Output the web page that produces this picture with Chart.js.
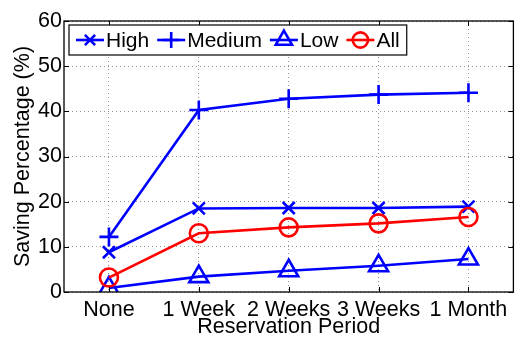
<!DOCTYPE html>
<html>
<head>
<meta charset="utf-8">
<script src="https://cdn.jsdelivr.net/npm/chart.js@4.4.1/dist/chart.umd.min.js"></script>
<style>
  html, body { margin: 0; padding: 0; background: #fff; }
  canvas { display: block; }
</style>
</head>
<body>
<canvas id="saving" width="527" height="337"></canvas>
<script>
const periods = ["None", "1 Week", "2 Weeks", "3 Weeks", "1 Month"];
const high = [8.8, 18.5, 18.6, 18.6, 18.9];
const medium = [12.2, 40.3, 42.8, 43.7, 44.1];
const low = [0.9, 3.4, 4.7, 5.8, 7.3];
const all = [3.2, 13.0, 14.3, 15.2, 16.6];
const yTicks = [0, 10, 20, 30, 40, 50, 60];

const FONT = "'Liberation Sans', Arial, Helvetica, sans-serif";
const BLUE = "#0000ff";
const RED = "#ff0000";

function series(label, data, color, style, radius, order) {
    return {
        label: label,
        data: data,
        order: order,
        borderColor: color,
        borderWidth: 2.6,
        pointStyle: style,
        pointRadius: radius,
        pointBorderColor: color,
        pointBackgroundColor: "rgba(0,0,0,0)",
        pointBorderWidth: 2.6,
        tension: 0
    };
}

// box round the plot, inward tick marks and the legend box
const frame = {
    id: "frame",
    afterDraw(chart) {
        const ctx = chart.ctx;
        const a = chart.chartArea;
        const xs = chart.scales.x, ys = chart.scales.y;
        ctx.save();
        ctx.strokeStyle = "#000";
        ctx.lineWidth = 1.3;
        ctx.strokeRect(a.left, a.top, a.right - a.left, a.bottom - a.top);

        const len = 5;
        ctx.beginPath();
        xs.ticks.forEach((t, i) => {
            const px = Math.round(xs.getPixelForTick(i)) + 0.5;
            ctx.moveTo(px, a.bottom); ctx.lineTo(px, a.bottom - len);
            ctx.moveTo(px, a.top); ctx.lineTo(px, a.top + len);
        });
        ys.ticks.forEach(t => {
            const py = Math.round(ys.getPixelForValue(t.value)) + 0.5;
            ctx.moveTo(a.left, py); ctx.lineTo(a.left + len, py);
            ctx.moveTo(a.right, py); ctx.lineTo(a.right - len, py);
        });
        ctx.lineWidth = 1;
        ctx.stroke();

        // legend
        ctx.font = "21px " + FONT;
        const sets = chart.data.datasets;
        const pad = 7, lineLen = 28, gap = 2, after = 8;
        let w = pad;
        sets.forEach((d, i) => {
            w += lineLen + gap + ctx.measureText(d.label).width + (i < sets.length - 1 ? after : 0);
        });
        w += 7;
        const bx = a.left + 5, by = a.top + 4, bh = 30;
        ctx.fillStyle = "#fff";
        ctx.fillRect(bx, by, w, bh);
        ctx.lineWidth = 1.2;
        ctx.strokeStyle = "#000";
        ctx.strokeRect(bx, by, w, bh);

        let x = bx + pad;
        const cy = by + bh / 2;
        sets.forEach(d => {
            ctx.strokeStyle = d.borderColor;
            ctx.lineWidth = d.borderWidth;
            ctx.beginPath();
            ctx.moveTo(x, cy);
            ctx.lineTo(x + lineLen, cy);
            ctx.stroke();
            ctx.fillStyle = "rgba(0,0,0,0)";
            Chart.helpers.drawPoint(ctx, {
                pointStyle: d.pointStyle,
                rotation: 0,
                radius: d.pointRadius * 0.85,
                borderWidth: d.pointBorderWidth
            }, x + lineLen / 2, cy);
            x += lineLen + gap;
            ctx.fillStyle = "#000";
            ctx.textBaseline = "middle";
            ctx.textAlign = "left";
            ctx.fillText(d.label, x, cy + 1);
            x += ctx.measureText(d.label).width + after;
        });
        ctx.restore();
    }
};

new Chart("saving", {
    type: "line",
    data: {
        labels: periods,
        datasets: [
            series("High", high, BLUE, "crossRot", 8.5, 3),
            series("Medium", medium, BLUE, "cross", 9.5, 2),
            series("Low", low, BLUE, "triangle", 11, 1),
            series("All", all, RED, "circle", 9, 0)
        ]
    },
    options: {
        responsive: false,
        animation: false,
        devicePixelRatio: 1,
        layout: { padding: { top: 21, right: 6, left: 0, bottom: 0 } },
        plugins: {
            legend: { display: false },
            tooltip: { enabled: false }
        },
        scales: {
            x: {
                offset: true,
                grid: { offset: false, color: "rgba(0,0,0,0.42)", lineWidth: 1, drawTicks: false },
                border: { display: false, dash: [1, 3] },
                ticks: { color: "#000", padding: 5, font: { family: FONT, size: 21.5 } },
                title: {
                    display: true,
                    text: "Reservation Period",
                    color: "#000",
                    padding: 0,
                    font: { family: FONT, size: 21.5, lineHeight: 0.95 }
                },
                afterFit: s => { s.height = 45; }
            },
            y: {
                min: 0,
                max: 60,
                afterBuildTicks: s => { s.ticks = yTicks.map(v => ({ value: v })); },
                grid: { color: "rgba(0,0,0,0.42)", lineWidth: 1, drawTicks: false },
                border: { display: false, dash: [1, 3] },
                ticks: { color: "#000", padding: 2, font: { family: FONT, size: 21.5 } },
                title: {
                    display: true,
                    text: "Saving Percentage (%)",
                    color: "#000",
                    padding: { top: 12, bottom: 0 },
                    font: { family: FONT, size: 21.5, lineHeight: 1 }
                },
                afterFit: s => { s.width = 64; }
            }
        }
    },
    plugins: [frame]
});
</script>
</body>
</html>
